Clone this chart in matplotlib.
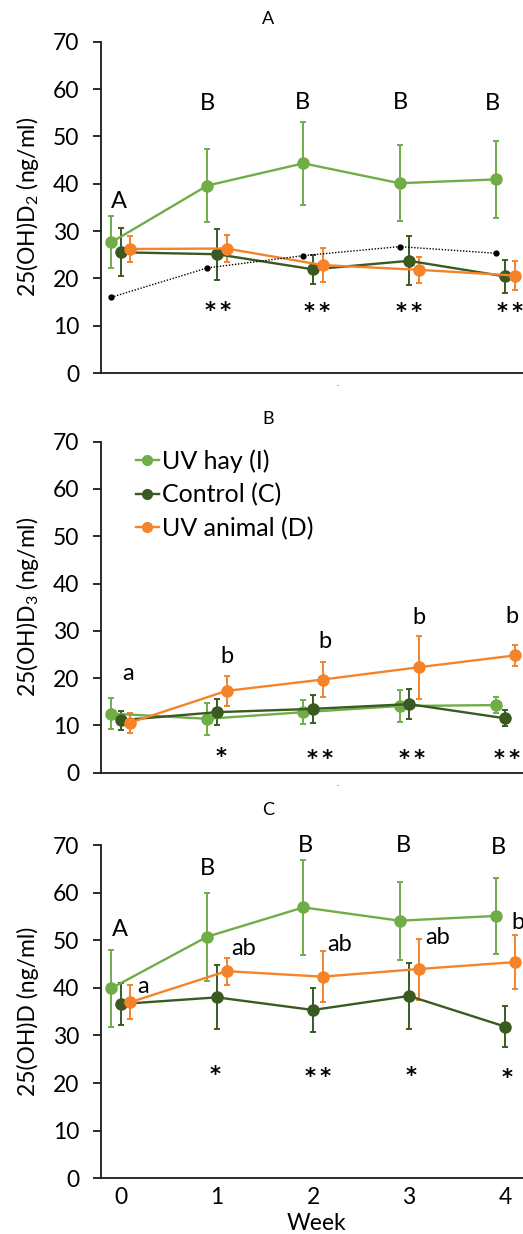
import matplotlib
matplotlib.use("Agg")
import matplotlib.pyplot as plt
from matplotlib.lines import Line2D
import numpy as np

plt.rcParams['font.family'] = ['Lato', 'DejaVu Sans']
plt.rcParams['mathtext.fontset'] = 'custom'
plt.rcParams['mathtext.rm'] = 'Lato'

weeks = [0, 1, 2, 3, 4]
series_names = ["UV hay (I)", "Control (C)", "UV animal (D)"]

# Panel A: 25(OH)D2
a_hay = [27.6, 39.6, 44.3, 40.1, 40.9]
a_hay_err = [5.5, 7.7, 8.8, 8.0, 8.2]
a_ctrl = [25.5, 25.1, 21.9, 23.7, 20.4]
a_ctrl_err = [5.1, 5.4, 3.1, 5.2, 3.5]
a_anim = [26.2, 26.3, 22.8, 21.8, 20.6]
a_anim_err = [2.7, 2.8, 3.6, 2.75, 3.1]
a_dotted = [16.0, 22.2, 24.8, 26.7, 25.3]

# Panel B: 25(OH)D3
b_hay = [12.5, 11.4, 12.8, 14.1, 14.3]
b_hay_err = [3.2, 3.4, 2.5, 3.3, 1.7]
b_ctrl = [11.1, 12.8, 13.5, 14.5, 11.5]
b_ctrl_err = [2.0, 2.8, 3.0, 3.2, 1.7]
b_anim = [10.6, 17.3, 19.7, 22.3, 24.8]
b_anim_err = [2.1, 3.1, 3.75, 6.7, 2.3]

# Panel C: 25(OH)D
c_hay = [39.9, 50.75, 56.9, 54.1, 55.1]
c_hay_err = [8.1, 9.25, 10.0, 8.2, 7.95]
c_ctrl = [36.6, 38.0, 35.35, 38.3, 31.85]
c_ctrl_err = [4.45, 6.7, 4.55, 6.9, 4.35]
c_anim = [37.0, 43.5, 42.35, 43.95, 45.4]
c_anim_err = [3.5, 2.85, 5.35, 6.4, 5.65]

# annotations (label, week, value)
a_letters = [("A", -0.02, 36.2), ("B", 0.90, 56.9), ("B", 1.89, 57.2), ("B", 2.91, 57.2), ("B", 3.87, 56.9)]
a_stars = [("**", 1.01, 14.6), ("**", 2.04, 14.3), ("**", 3.00, 14.4), ("**", 4.05, 14.4)]
b_letters = [("a", 0.08, 21.0), ("b", 1.10, 24.5), ("b", 2.12, 27.7), ("b", 3.10, 32.9), ("b", 4.07, 33.1)]
b_stars = [("*", 1.04, 4.8), ("**", 2.07, 4.4), ("**", 3.03, 4.3), ("**", 4.02, 4.3)]
c_letters = [("A", -0.01, 52.2), ("a", 0.23, 40.3), ("B", 0.90, 65.1), ("ab", 1.28, 48.3),
             ("B", 1.92, 69.8), ("ab", 2.28, 49.2), ("B", 2.94, 69.8), ("ab", 3.30, 50.6),
             ("B", 3.93, 69.5), ("b", 4.13, 53.7)]
c_stars = [("*", 0.98, 23.1), ("**", 2.05, 22.75), ("*", 3.02, 23.0), ("*", 4.02, 22.6)]

GREEN = "#70AD47"
DARK = "#3A5A22"
ORANGE = "#F5832A"
colors = [GREEN, DARK, ORANGE]
offsets = [-0.1, 0.0, 0.1]

W, H = 523, 1234
fig = plt.figure(figsize=(W / 100, H / 100), dpi=100)

def axes_px(top_px, bottom_px):
    left = 101 / W
    return fig.add_axes([left, 1 - bottom_px / H, 1 - left, (bottom_px - top_px) / H])

panels = [
    dict(top=41.7, bot=373.0, data=[(a_hay, a_hay_err), (a_ctrl, a_ctrl_err), (a_anim, a_anim_err)],
         letters=a_letters, stars=a_stars, title="A", ylabel=r"25(OH)D$_\mathregular{2}$ (ng/ml)", title_y=19.3),
    dict(top=441.7, bot=772.7, data=[(b_hay, b_hay_err), (b_ctrl, b_ctrl_err), (b_anim, b_anim_err)],
         letters=b_letters, stars=b_stars, title="B", ylabel=r"25(OH)D$_\mathregular{3}$ (ng/ml)", title_y=419.3),
    dict(top=845.0, bot=1178.3, data=[(c_hay, c_hay_err), (c_ctrl, c_ctrl_err), (c_anim, c_anim_err)],
         letters=c_letters, stars=c_stars, title="C", ylabel="25(OH)D (ng/ml)", title_y=810.0),
]

wk = np.array(weeks, dtype=float)
for i, p in enumerate(panels):
    ax = axes_px(p["top"], p["bot"])
    for (vals, errs), col, off, name in zip(p["data"], colors, offsets, series_names):
        ax.errorbar(wk + off, vals, yerr=errs, color=col, marker='o', markersize=8,
                    linewidth=1.7, elinewidth=1.4, capsize=2.5, capthick=1.4,
                    clip_on=False, zorder=3, label=name)
    if i == 0:
        ax.plot(wk - 0.1, a_dotted, color='black', linestyle=(0, (1, 1.2)), linewidth=1.0,
                marker='o', markersize=3.5, zorder=4)
    for txt, x, y in p["letters"]:
        ax.text(x, y, txt, ha='center', va='center', fontsize=17, color='black', zorder=5)
    for txt, x, y in p["stars"]:
        ax.annotate("\u2009".join(txt), (x, y), xytext=(0, -5), textcoords='offset points',
                    ha='center', va='center', fontsize=15, color='black', zorder=5,
                    family='DejaVu Sans', fontweight='bold')
    ax.set_xlim(-0.206, 4.185)
    ax.set_ylim(0, 70)
    ax.set_yticks(range(0, 71, 10))
    ax.tick_params(axis='y', length=5.5, width=1.3, pad=10, labelsize=16.5, color='#1a1a1a')
    ax.spines['top'].set_visible(False)
    ax.spines['right'].set_visible(False)
    for s in ('left', 'bottom'):
        ax.spines[s].set_linewidth(1.3)
        ax.spines[s].set_color('#1a1a1a')
    if i == 2:
        ax.set_xticks(weeks)
        ax.set_xticklabels([str(w) for w in weeks])
        ax.tick_params(axis='x', length=0, pad=6, labelsize=16.5)
    else:
        ax.set_xticks([])
        fig.text(338 / W, 1 - (p["bot"] + 13) / H, "-", ha='center', va='center',
                 fontsize=5, color='#666666')
    fig.text(267.7 / W, 1 - p["title_y"] / H, p["title"], ha='center', va='center', fontsize=13)
    fig.text(28 / W, 1 - (p["top"] + p["bot"]) / 2 / H, p["ylabel"], rotation=90,
             ha='center', va='center', fontsize=16.5)
    if i == 1:
        handles = [Line2D([], [], color=c, marker='o', markersize=7, linewidth=1.7) for c in colors]
        ax.legend(handles=handles, labels=series_names, loc='upper left',
                  bbox_to_anchor=(0.082, 0.978), numpoints=1,
                  frameon=False, fontsize=18, handlelength=0.95, handletextpad=0.1,
                  labelspacing=0.42, borderpad=0, borderaxespad=0)

fig.text(316 / W, 1 - 1224 / H, "Week", ha='center', va='center', fontsize=16.5)

fig.savefig("out.png", dpi=100)
